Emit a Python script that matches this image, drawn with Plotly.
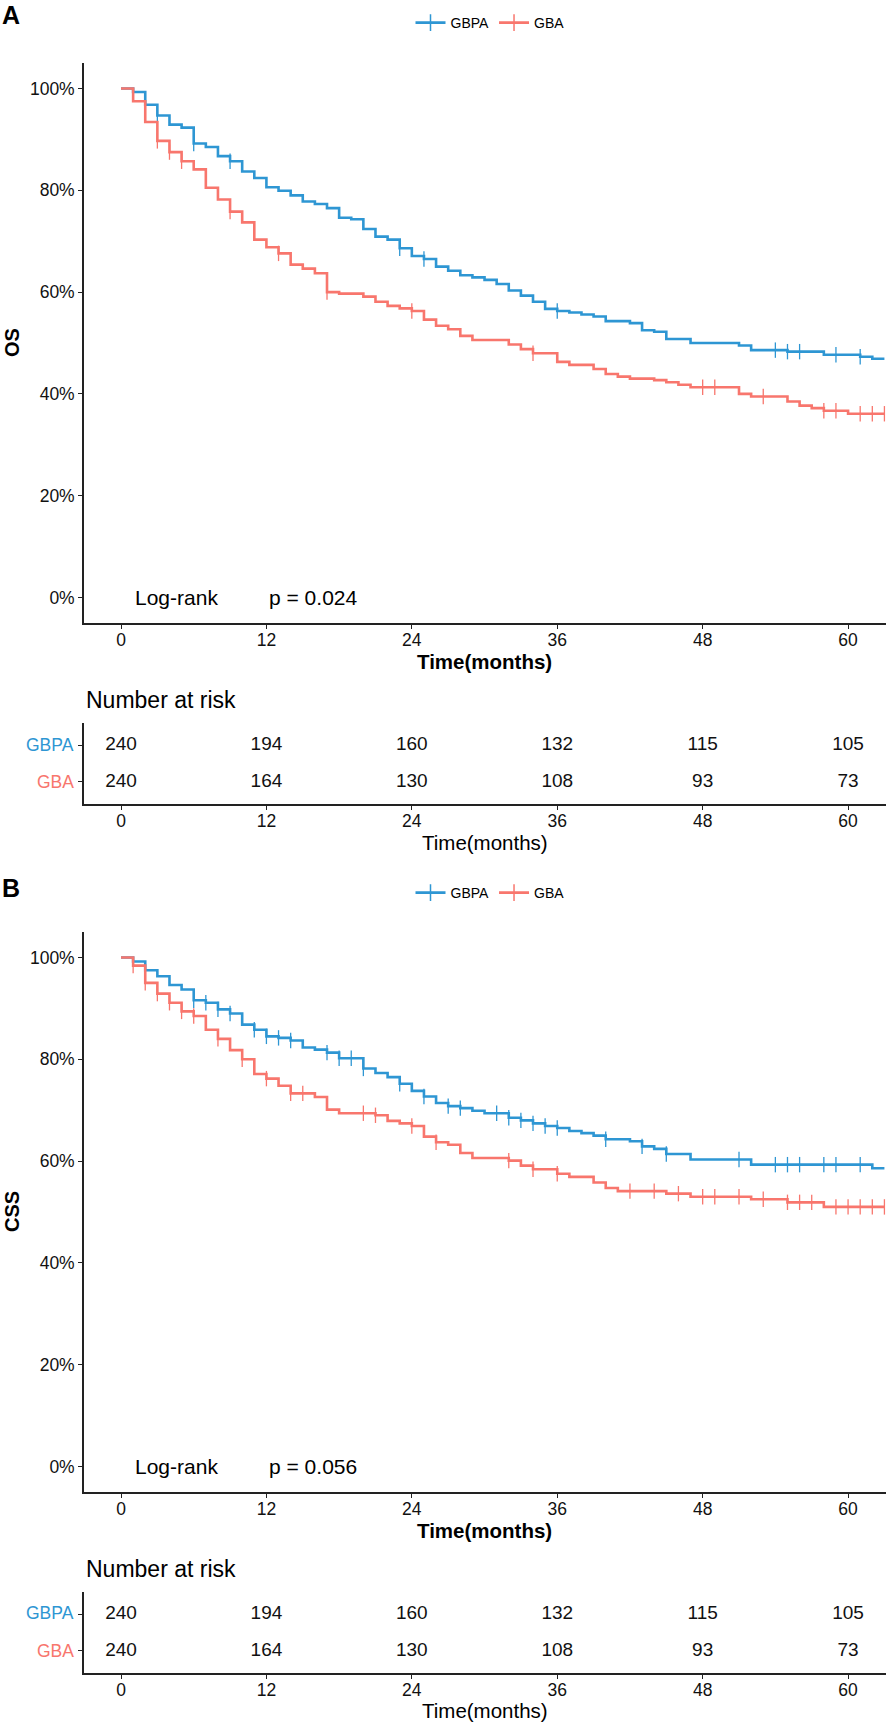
import plotly.graph_objects as go

# ---- data (months, survival) ----
months_os_gbpa = [0, 1, 2, 3, 4, 5, 6, 7, 8, 9, 10, 11, 12, 13, 14, 15, 16, 17, 18, 19, 20, 21, 22, 23, 24,
                  25, 26, 27, 28, 29, 30, 31, 32, 33, 34, 35, 36, 37, 38, 39, 40, 42, 43, 44, 45, 47, 51, 52,
                  55, 58, 61, 62, 63]
surv_os_gbpa = [1.0, 0.993, 0.968, 0.947, 0.929, 0.923, 0.892, 0.885, 0.867, 0.857, 0.837, 0.824, 0.806,
                0.799, 0.790, 0.778, 0.773, 0.765, 0.746, 0.743, 0.724, 0.709, 0.703, 0.686, 0.671, 0.665,
                0.650, 0.642, 0.633, 0.629, 0.624, 0.616, 0.603, 0.593, 0.581, 0.567, 0.563, 0.560, 0.556,
                0.552, 0.543, 0.539, 0.525, 0.522, 0.508, 0.500, 0.495, 0.486, 0.483, 0.477, 0.473, 0.469,
                0.469]
cens_os_gbpa = [2, 3, 6, 9, 23, 25, 36, 54, 55, 56, 59, 61]

months_os_gba = [0, 1, 2, 3, 4, 5, 6, 7, 8, 9, 10, 11, 12, 13, 14, 15, 16, 17, 18, 20, 21, 22, 23, 24, 25,
                 26, 27, 28, 29, 32, 33, 34, 36, 37, 39, 40, 41, 42, 44, 45, 46, 47, 51, 52, 55, 56, 57, 58,
                 60, 63]
surv_os_gba = [1.0, 0.975, 0.934, 0.897, 0.875, 0.857, 0.841, 0.805, 0.782, 0.758, 0.737, 0.703, 0.688,
               0.676, 0.654, 0.646, 0.637, 0.600, 0.597, 0.591, 0.581, 0.573, 0.568, 0.563, 0.546, 0.534,
               0.527, 0.514, 0.506, 0.497, 0.488, 0.480, 0.463, 0.457, 0.449, 0.439, 0.434, 0.430, 0.427,
               0.423, 0.418, 0.413, 0.400, 0.395, 0.385, 0.377, 0.372, 0.367, 0.361, 0.361]
cens_os_gba = [3, 4, 5, 9, 13, 17, 24, 34, 48, 49, 53, 58, 59, 61, 62, 63]

months_css_gbpa = [0, 1, 2, 3, 4, 5, 6, 7, 8, 9, 10, 11, 12, 13, 14, 15, 16, 17, 18, 20, 21, 22, 23, 24,
                   25, 26, 27, 28, 29, 30, 32, 33, 34, 35, 36, 37, 38, 39, 40, 42, 43, 44, 45, 47, 52, 62,
                   63]
surv_css_gbpa = [1.0, 0.992, 0.975, 0.963, 0.946, 0.937, 0.916, 0.911, 0.898, 0.890, 0.868, 0.858, 0.845,
                 0.842, 0.837, 0.823, 0.819, 0.813, 0.802, 0.782, 0.773, 0.765, 0.752, 0.738, 0.727, 0.714,
                 0.708, 0.704, 0.699, 0.694, 0.685, 0.680, 0.674, 0.669, 0.665, 0.659, 0.655, 0.650, 0.643,
                 0.639, 0.629, 0.624, 0.614, 0.603, 0.593, 0.586, 0.586]
cens_css_gbpa = [2, 6, 7, 8, 9, 11, 12, 13, 14, 17, 18, 19, 20, 23, 25, 27, 28, 31, 32, 33, 34, 35, 36,
                 40, 43, 45, 51, 54, 55, 56, 58, 59, 61]

months_css_gba = [0, 1, 2, 3, 4, 5, 6, 7, 8, 9, 10, 11, 12, 13, 14, 16, 17, 18, 21, 22, 23, 24, 25, 26, 27,
                  28, 29, 32, 33, 34, 36, 37, 39, 40, 41, 45, 47, 52, 55, 58, 63]
surv_css_gba = [1.0, 0.984, 0.950, 0.929, 0.911, 0.894, 0.885, 0.858, 0.840, 0.818, 0.800, 0.771, 0.762,
                0.748, 0.733, 0.726, 0.701, 0.694, 0.690, 0.679, 0.674, 0.669, 0.648, 0.637, 0.632, 0.616,
                0.606, 0.601, 0.591, 0.584, 0.575, 0.569, 0.558, 0.547, 0.541, 0.536, 0.530, 0.525, 0.519,
                0.510, 0.510]
cens_css_gba = [1, 2, 3, 4, 5, 6, 8, 10, 12, 14, 15, 20, 21, 24, 26, 32, 34, 36, 42, 44, 46, 48, 49, 51,
                53, 55, 56, 57, 59, 60, 61, 62, 63]

risk_times = [0, 12, 24, 36, 48, 60]
risk_gbpa = [240, 194, 160, 132, 115, 105]
risk_gba = [240, 164, 130, 108, 93, 73]

groups = ["GBPA", "GBA"]
y_ticks = [0, 0.2, 0.4, 0.6, 0.8, 1.0]
y_tick_labels = ["0%", "20%", "40%", "60%", "80%", "100%"]
pvalues = ["p = 0.024", "p = 0.056"]

BLUE = "#2E96D3"
RED = "#F8766D"
AXIS = "#222222"
FONT = "Liberation Sans, Arial, sans-serif"
W, H = 886, 1723


def step_at(times, surv, t):
    val = surv[0]
    for tt, ss in zip(times, surv):
        if tt <= t:
            val = ss
    return val


def py(px):
    return 1 - px / H


fig = go.Figure()

panels = [
    dict(name="OS", ax="", tab="3", legend="legend",
         curves=[(months_os_gbpa, surv_os_gbpa, cens_os_gbpa, BLUE),
                 (months_os_gba, surv_os_gba, cens_os_gba, RED)]),
    dict(name="CSS", ax="2", tab="4", legend="legend2",
         curves=[(months_css_gbpa, surv_css_gbpa, cens_css_gbpa, BLUE),
                 (months_css_gba, surv_css_gba, cens_css_gba, RED)]),
]

for p in panels:
    xa, ya = "x" + p["ax"], "y" + p["ax"]
    for grp, (tm, sv, cn, col) in zip(groups, p["curves"]):
        fig.add_trace(go.Scatter(x=tm, y=sv, mode="lines", line=dict(color=col, width=2.6, shape="hv"),
                                 xaxis=xa, yaxis=ya, showlegend=False, hoverinfo="skip"))
        fig.add_trace(go.Scatter(x=cn, y=[step_at(tm, sv, c) for c in cn], mode="markers",
                                 marker=dict(symbol="line-ns", size=11, line=dict(color=col, width=1.3)),
                                 xaxis=xa, yaxis=ya, showlegend=False, hoverinfo="skip"))
        # legend entry (line + cross)
        fig.add_trace(go.Scatter(x=[None], y=[None], mode="lines+markers", name=grp,
                                 line=dict(color=col, width=2.6),
                                 marker=dict(symbol="line-ns", size=12, line=dict(color=col, width=1.5)),
                                 xaxis=xa, yaxis=ya, legend=p["legend"]))
    # risk table
    xt, yt = "x" + p["tab"], "y" + p["tab"]
    for row, vals in zip([2, 1], [risk_gbpa, risk_gba]):
        fig.add_trace(go.Scatter(x=risk_times, y=[row] * len(risk_times), mode="text",
                                 text=[str(v) for v in vals], textfont=dict(size=19, color="#111111"),
                                 xaxis=xt, yaxis=yt, showlegend=False, hoverinfo="skip", cliponaxis=False))

common_axis = dict(showline=True, linecolor=AXIS, linewidth=1.6, ticks="outside", ticklen=4,
                   tickwidth=1.4, tickcolor=AXIS, showgrid=False, zeroline=False,
                   tickfont=dict(size=17.5, color="#111111", family=FONT))
xdom = [84 / W, 1.0]
xr = [-3.054, 63.13]

layout_axes = {}
plot_doms = [[py(623), py(63)], [py(1492), py(932)]]
tab_doms = [[py(804), py(723)], [py(1673), py(1592)]]
for i, (pd_, td) in enumerate(zip(plot_doms, tab_doms)):
    a = "" if i == 0 else "2"
    t = "3" if i == 0 else "4"
    layout_axes["xaxis" + a] = dict(common_axis, domain=xdom, range=xr, tickvals=risk_times,
                                    anchor="y" + a, ticklabelstandoff=-4)
    layout_axes["yaxis" + a] = dict(common_axis, domain=pd_, range=[-0.05, 1.05], tickvals=y_ticks,
                                    ticktext=y_tick_labels, anchor="x" + a)
    layout_axes["xaxis" + t] = dict(common_axis, domain=xdom, range=xr, tickvals=risk_times,
                                    anchor="y" + t, ticklabelstandoff=-4)
    layout_axes["yaxis" + t] = dict(common_axis, domain=td, range=[0.405, 2.595], tickvals=[1, 2],
                                    showticklabels=False, anchor="x" + t)

ann = []
letter_y = [15, 888]
ytitle_y = [343, 1212]
bold_title_y = [661, 1530]
risk_title_y = [700, 1569]
tab_title_y = [842, 1710]
row_y = [(745, 782), (1613, 1651)]
for i, p in enumerate(panels):
    a = "" if i == 0 else "2"
    ann.append(dict(text="<b>%s</b>" % "AB"[i], x=0, y=py(letter_y[i]), xref="paper", yref="paper",
                    xanchor="left", yanchor="middle", showarrow=False, font=dict(size=25, color="black")))
    ann.append(dict(text="<b>%s</b>" % p["name"], x=12 / W, y=py(ytitle_y[i]), xref="paper", yref="paper",
                    textangle=-90, xanchor="center", yanchor="middle", showarrow=False,
                    font=dict(size=20, color="black")))
    ann.append(dict(text="<b>Time(months)</b>", x=485 / W, y=py(bold_title_y[i]), xref="paper",
                    yref="paper", xanchor="center", yanchor="middle", showarrow=False,
                    font=dict(size=20.5, color="black")))
    ann.append(dict(text="Number at risk", x=84 / W, y=py(risk_title_y[i]), xref="paper", yref="paper",
                    xanchor="left", yanchor="middle", showarrow=False, font=dict(size=23, color="black")))
    ann.append(dict(text="Time(months)", x=485 / W, y=py(tab_title_y[i]), xref="paper", yref="paper",
                    xanchor="center", yanchor="middle", showarrow=False, font=dict(size=20.5, color="black")))
    ann.append(dict(text="Log-rank", x=1.0, y=0, xref="x" + a, yref="y" + a, xanchor="left",
                    yanchor="middle", showarrow=False, font=dict(size=21, color="black")))
    ann.append(dict(text=pvalues[i], x=12.05, y=0, xref="x" + a, yref="y" + a, xanchor="left",
                    yanchor="middle", showarrow=False, font=dict(size=21, color="black")))
    for grp, col, ry in zip(groups, [BLUE, RED], row_y[i]):
        ann.append(dict(text=grp, x=76 / W, y=py(ry), xref="paper", yref="paper", xanchor="right",
                        yanchor="middle", showarrow=False, font=dict(size=17.5, color=col)))

legend_style = dict(orientation="h", xanchor="center", yanchor="middle", x=490 / W,
                    font=dict(size=14, color="black", family=FONT), bgcolor="rgba(0,0,0,0)",
                    itemwidth=30, tracegroupgap=0)

fig.update_layout(
    width=W, height=H,
    margin=dict(l=0, r=0, t=0, b=0),
    paper_bgcolor="white", plot_bgcolor="white",
    font=dict(family=FONT, color="black"),
    legend=dict(legend_style, y=py(23)),
    legend2=dict(legend_style, y=py(893)),
    annotations=ann,
    **layout_axes,
)

# the page body has a default 8px margin; drop it so the figure fills the window
fig.write_html("out.html", config={"displayModeBar": False},
               post_script="document.body.style.margin='0';")
